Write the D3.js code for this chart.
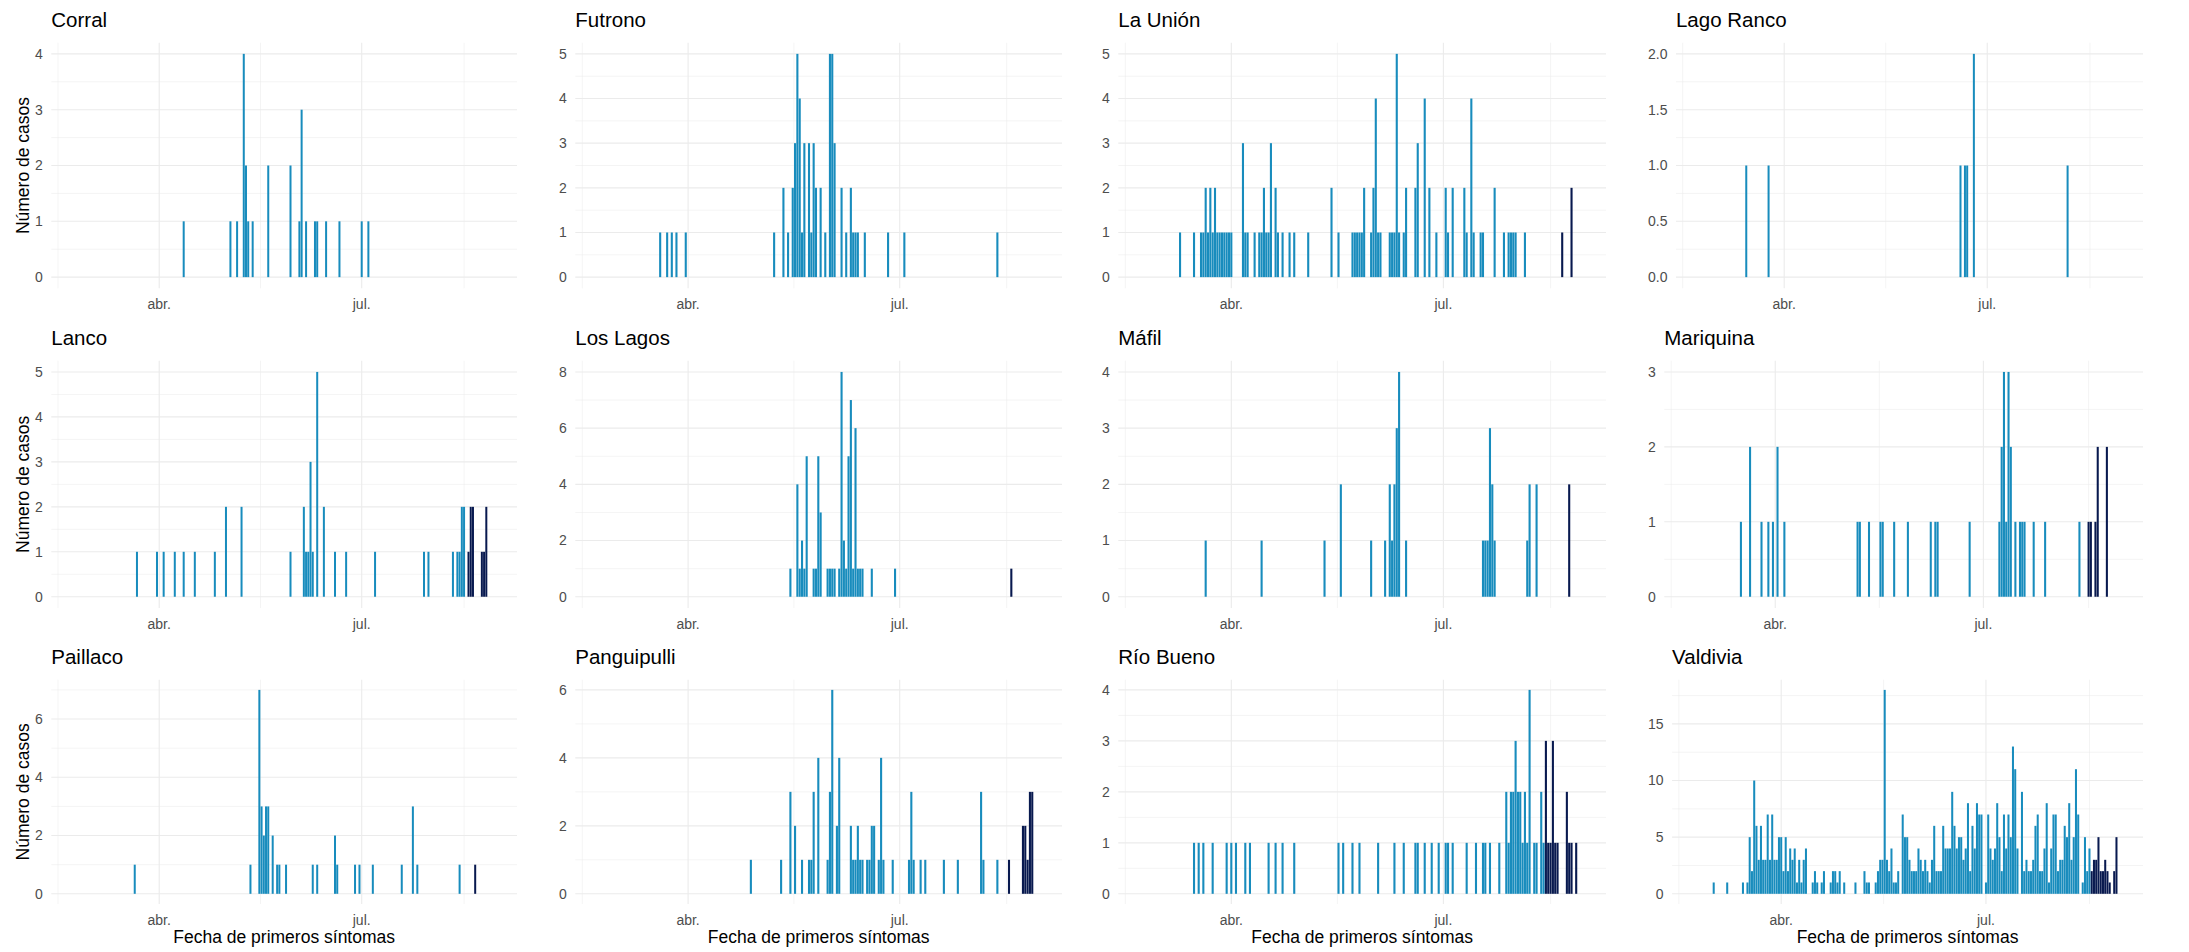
<!DOCTYPE html>
<html>
<head>
<meta charset="utf-8">
<script src="https://cdn.jsdelivr.net/npm/d3@7"></script>
<style>
  body { margin: 0; background: #ffffff; }
  text { font-family: "Liberation Sans", Arial, sans-serif; }
</style>
</head>
<body>
<svg id="chart" width="2189" height="952"></svg>
<script>
// ---------------- DATA ----------------
const YEAR = 2020;
const communes = ["Corral", "Futrono", "La Unión", "Lago Ranco", "Lanco", "Los Lagos",
                  "Máfil", "Mariquina", "Paillaco", "Panguipulli", "Río Bueno", "Valdivia"];
// [MM-DD, cases, recent(1) ]
const corral = [["04-12",1],["05-03",1],["05-06",1],["05-09",4],["05-10",2],["05-11",1],["05-13",1],["05-20",2],
  ["05-30",2],["06-03",1],["06-04",3],["06-06",1],["06-10",1],["06-11",1],["06-15",1],["06-21",1],["07-01",1],["07-04",1]];
const futrono = [["03-20",1],["03-23",1],["03-25",1],["03-27",1],["03-31",1],["05-08",1],["05-12",2],["05-14",1],
  ["05-16",2],["05-17",3],["05-18",5],["05-19",4],["05-20",1],["05-21",3],["05-23",3],["05-24",1],["05-25",3],
  ["05-26",2],["05-28",2],["05-30",1],["06-01",5],["06-02",5],["06-03",3],["06-06",2],["06-08",1],["06-10",2],
  ["06-11",1],["06-12",1],["06-13",1],["06-16",1],["06-26",1],["07-03",1],["08-12",1]];
const laUnion = [["03-10",1],["03-16",1],["03-19",1],["03-20",1],["03-21",2],["03-22",1],["03-23",2],["03-24",1],
  ["03-25",2],["03-26",1],["03-27",1],["03-28",1],["03-29",1],["03-30",1],["03-31",1],["04-01",1],["04-06",3],
  ["04-07",1],["04-08",1],["04-11",1],["04-13",1],["04-14",1],["04-15",2],["04-16",1],["04-17",1],["04-18",3],
  ["04-20",2],["04-21",1],["04-23",1],["04-26",1],["04-28",1],["05-04",1],["05-14",2],["05-17",1],["05-23",1],
  ["05-24",1],["05-25",1],["05-26",1],["05-27",1],["05-28",2],["05-31",1],["06-01",2],["06-02",4],["06-03",1],
  ["06-04",1],["06-08",1],["06-09",1],["06-10",1],["06-11",5],["06-12",1],["06-14",1],["06-15",2],["06-19",2],
  ["06-20",3],["06-23",4],["06-25",2],["06-28",1],["07-02",2],["07-03",1],["07-05",2],["07-10",2],["07-11",1],
  ["07-13",4],["07-14",1],["07-17",1],["07-18",1],["07-23",2],["07-27",1],["07-29",1],["07-30",1],["07-31",1],
  ["08-01",1],["08-05",1],["08-21",1,1],["08-25",2,1]];
const lagoRanco = [["03-15",1],["03-25",1],["06-19",1],["06-21",1],["06-22",1],["06-25",2],["08-06",1]];
const lanco = [["03-22",1],["03-31",1],["04-03",1],["04-08",1],["04-12",1],["04-17",1],["04-26",1],["05-01",2],
  ["05-08",2],["05-30",1],["06-05",2],["06-06",1],["06-07",1],["06-08",3],["06-09",1],["06-11",5],["06-14",2],
  ["06-19",1],["06-24",1],["07-07",1],["07-29",1],["07-31",1],["08-11",1],["08-13",1],["08-14",1],["08-15",2],
  ["08-16",2],["08-18",1,1],["08-19",2,1],["08-20",2,1],["08-24",1,1],["08-25",1,1],["08-26",2,1]];
const losLagos = [["05-15",1],["05-18",4],["05-19",1],["05-20",2],["05-21",1],["05-22",5],["05-25",1],["05-26",1],
  ["05-27",5],["05-28",3],["05-31",1],["06-01",1],["06-02",1],["06-03",1],["06-05",1],["06-06",8],["06-07",2],
  ["06-08",1],["06-09",5],["06-10",7],["06-11",1],["06-12",6],["06-13",1],["06-14",1],["06-15",1],["06-19",1],
  ["06-29",1],["08-18",1,1]];
const mafil = [["03-21",1],["04-14",1],["05-11",1],["05-18",2],["05-31",1],["06-06",1],["06-08",2],["06-09",1],
  ["06-10",2],["06-11",3],["06-12",4],["06-15",1],["07-18",1],["07-19",1],["07-20",1],["07-21",3],["07-22",2],
  ["07-23",1],["08-06",1],["08-07",2],["08-10",2],["08-24",2,1]];
const mariquina = [["03-17",1],["03-21",2],["03-26",1],["03-29",1],["03-31",1],["04-02",2],["04-05",1],["05-07",1],
  ["05-08",1],["05-12",1],["05-17",1],["05-18",1],["05-23",1],["05-29",1],["06-08",1],["06-10",1],["06-11",1],
  ["06-25",1],["07-08",1],["07-09",2],["07-10",3],["07-11",1],["07-12",3],["07-13",2],["07-15",1],["07-17",1],
  ["07-18",1],["07-19",1],["07-23",1],["07-28",1],["08-12",1],["08-16",1,1],["08-17",1,1],["08-19",1,1],
  ["08-20",2,1],["08-24",2,1]];
const paillaco = [["03-21",1],["05-12",1],["05-16",7],["05-17",3],["05-18",2],["05-19",3],["05-20",3],["05-22",2],
  ["05-24",1],["05-25",1],["05-28",1],["06-09",1],["06-11",1],["06-19",2],["06-20",1],["06-28",1],["06-30",1],
  ["07-06",1],["07-19",1],["07-24",3],["07-26",1],["08-14",1],["08-21",1,1]];
const panguipulli = [["04-28",1],["05-11",1],["05-15",3],["05-17",2],["05-20",1],["05-23",1],["05-24",1],["05-25",3],
  ["05-27",4],["05-31",1],["06-01",3],["06-02",6],["06-04",2],["06-05",4],["06-10",2],["06-11",1],["06-12",1],
  ["06-13",2],["06-14",1],["06-15",1],["06-17",1],["06-18",1],["06-19",2],["06-20",2],["06-22",1],["06-23",4],
  ["06-24",1],["06-28",1],["07-05",1],["07-06",3],["07-07",1],["07-10",1],["07-12",1],["07-20",1],["07-26",1],
  ["08-05",3],["08-06",1],["08-12",1],["08-17",1,1],["08-23",2,1],["08-24",2,1],["08-25",1,1],["08-26",3,1],
  ["08-27",3,1]];
const rioBueno = [["03-16",1],["03-18",1],["03-20",1],["03-24",1],["03-30",1],["04-01",1],["04-03",1],["04-07",1],
  ["04-09",1],["04-17",1],["04-20",1],["04-23",1],["04-28",1],["05-17",1],["05-19",1],["05-23",1],["05-26",1],
  ["06-03",1],["06-10",1],["06-14",1],["06-19",1],["06-20",1],["06-23",1],["06-26",1],["06-29",1],["07-02",1],
  ["07-03",1],["07-05",1],["07-11",1],["07-15",1],["07-18",1],["07-19",1],["07-21",1],["07-25",1],["07-28",2],
  ["07-29",1],["07-30",2],["07-31",2],["08-01",3],["08-02",2],["08-03",2],["08-04",1],["08-05",2],["08-06",1],
  ["08-07",4],["08-09",1],["08-10",1],["08-12",2],["08-13",1],["08-14",3,1],["08-15",1,1],["08-16",1,1],
  ["08-17",3,1],["08-18",1,1],["08-19",1,1],["08-23",2,1],["08-24",1,1],["08-25",1,1],["08-27",1,1]];
const valdivia = [["03-02",1],["03-08",1],["03-15",1],["03-17",1],["03-18",5],["03-19",2],["03-20",10],["03-21",6],
  ["03-22",3],["03-23",6],["03-24",3],["03-25",3],["03-26",7],["03-27",3],["03-28",7],["03-29",3],["03-30",3],
  ["03-31",5],["04-01",5],["04-02",2],["04-03",5],["04-04",2],["04-05",4],["04-06",3],["04-07",4],["04-08",1],
  ["04-09",3],["04-10",1],["04-11",3],["04-12",4],["04-15",1],["04-16",2],["04-17",1],["04-19",1],["04-20",2],
  ["04-23",1],["04-24",2],["04-25",2],["04-26",1],["04-27",2],["04-29",1],["05-04",1],["05-08",2],["05-09",1],
  ["05-10",1],["05-13",1],["05-14",2],["05-15",3],["05-16",3],["05-17",18],["05-18",3],["05-19",2],["05-20",4],
  ["05-21",1],["05-22",1],["05-23",2],["05-25",7],["05-26",5],["05-27",5],["05-28",3],["05-29",2],["05-30",2],
  ["05-31",2],["06-01",4],["06-02",3],["06-03",2],["06-04",3],["06-05",2],["06-06",1],["06-07",3],["06-08",6],
  ["06-09",2],["06-10",2],["06-11",2],["06-12",6],["06-13",4],["06-14",4],["06-15",4],["06-16",9],["06-17",6],
  ["06-18",4],["06-19",5],["06-20",5],["06-21",3],["06-22",4],["06-23",8],["06-24",2],["06-25",6],["06-26",4],
  ["06-27",8],["06-28",7],["06-29",7],["07-01",1],["07-02",7],["07-03",4],["07-04",3],["07-05",4],["07-06",8],
  ["07-07",5],["07-08",2],["07-09",7],["07-10",4],["07-11",7],["07-12",5],["07-13",13],["07-14",11],["07-15",4],
  ["07-17",9],["07-18",2],["07-19",3],["07-20",2],["07-21",2],["07-22",3],["07-23",6],["07-24",7],["07-25",2],
  ["07-26",2],["07-27",4],["07-28",8],["07-29",1],["07-30",4],["07-31",7],["08-01",7],["08-02",2],["08-03",3],
  ["08-04",3],["08-05",6],["08-06",5],["08-07",8],["08-08",3],["08-09",5],["08-10",11],["08-11",7],["08-13",1],
  ["08-14",5],["08-15",2],["08-16",4],["08-17",2,1],["08-18",3,1],["08-19",3,1],["08-20",5,1],["08-21",2,1],
  ["08-22",2,1],["08-23",3,1],["08-24",2,1],["08-25",1,1],["08-27",2,1],["08-28",5,1]];
const seriesList = [corral, futrono, laUnion, lagoRanco, lanco, losLagos,
                    mafil, mariquina, paillaco, panguipulli, rioBueno, valdivia];
const monthLabels = ["ene.","feb.","mar.","abr.","may.","jun.","jul.","ago.","sept.","oct.","nov.","dic."];
const xDomain = ["2020-02-12T12:00:00Z", "2020-09-08T19:00:00Z"];
const yAxisTitle = "Número de casos";
const xAxisTitle = "Fecha de primeros síntomas";

// ---------------- STYLE / LAYOUT ----------------
const barColor = "#188cbd", recentColor = "#08194f";
const gridColor = "#ebebeb";
const colRight = [517, 1062, 1606, 2143];
const colLabelStart = [35, 559, 1102, 1648];
const rowTop = [42.7, 360.7, 679.7];
const rowBottom = [288.3, 608, 904];
const tickFont = 14, titleFont = 20.5, axisTitleFont = 17.5;

const svg = d3.select("#chart");
const parseDay = s => new Date(Date.UTC(YEAR, +s.slice(0, 2) - 1, +s.slice(3, 5)));
const domain = xDomain.map(d => new Date(d));

const measurer = svg.append("text").attr("font-size", tickFont).attr("visibility", "hidden");
function textWidth(s) { measurer.text(s); return measurer.node().getComputedTextLength(); }

const majorsAll = d3.utcMonth.every(3).range(d3.utcMonth.offset(domain[0], -3), d3.utcMonth.offset(domain[1], 3));
const xMajors = majorsAll.filter(d => d >= domain[0] && d <= domain[1]);
const xMinors = d3.pairs(majorsAll).map(([a, b]) => new Date((+a + +b) / 2))
  .filter(d => d >= domain[0] && d <= domain[1]);

seriesList.forEach((series, i) => {
  const col = i % 4, row = Math.floor(i / 4);
  const top = rowTop[row], bottom = rowBottom[row], right = colRight[col];
  const maxV = d3.max(series, d => d[1]);
  const yTicks = d3.ticks(0, maxV, 4);
  const step = yTicks[1] - yTicks[0];
  const fmt = step < 1 ? d3.format(".1f") : d3.format("d");
  const labelW = d3.max(yTicks, t => textWidth(fmt(t)));
  const left = colLabelStart[col] + labelW + 8.5;

  const x = d3.scaleUtc().domain(domain).range([left, right]);
  const y = d3.scaleLinear().domain([-0.05 * maxV, 1.05 * maxV]).range([bottom, top]);

  const g = svg.append("g");
  const yMinors = d3.range(yTicks.length + 1).map(k => yTicks[0] - step / 2 + k * step)
    .filter(v => v >= y.domain()[0] && v <= y.domain()[1]);
  g.selectAll(".ymin").data(yMinors).join("line")
    .attr("x1", left).attr("x2", right).attr("y1", d => y(d)).attr("y2", d => y(d))
    .attr("stroke", gridColor).attr("stroke-width", 0.55);
  g.selectAll(".xmin").data(xMinors).join("line")
    .attr("x1", d => x(d)).attr("x2", d => x(d)).attr("y1", top).attr("y2", bottom)
    .attr("stroke", gridColor).attr("stroke-width", 0.55);
  g.selectAll(".ymaj").data(yTicks).join("line")
    .attr("x1", left).attr("x2", right).attr("y1", d => y(d)).attr("y2", d => y(d))
    .attr("stroke", gridColor).attr("stroke-width", 1.1);
  g.selectAll(".xmaj").data(xMajors).join("line")
    .attr("x1", d => x(d)).attr("x2", d => x(d)).attr("y1", top).attr("y2", bottom)
    .attr("stroke", gridColor).attr("stroke-width", 1.1);

  const dayPx = x(new Date(Date.UTC(YEAR, 3, 2))) - x(new Date(Date.UTC(YEAR, 3, 1)));
  const bw = 0.9 * dayPx;
  g.selectAll("rect").data(series).join("rect")
    .attr("x", d => x(parseDay(d[0])) - bw / 2)
    .attr("width", bw)
    .attr("y", d => y(d[1]))
    .attr("height", d => y(0) - y(d[1]))
    .attr("fill", d => d[2] ? recentColor : barColor);

  g.selectAll(".ylab").data(yTicks).join("text")
    .attr("x", left - 8.5).attr("y", d => y(d)).attr("dy", "0.35em")
    .attr("text-anchor", "end").attr("font-size", tickFont).attr("fill", "#4d4d4d")
    .text(d => fmt(d));
  g.selectAll(".xlab").data(xMajors).join("text")
    .attr("x", d => x(d)).attr("y", bottom + 20.5)
    .attr("text-anchor", "middle").attr("font-size", tickFont).attr("fill", "#4d4d4d")
    .text(d => monthLabels[d.getUTCMonth()]);
  g.append("text").attr("x", left).attr("y", top - 15.3)
    .attr("font-size", titleFont).attr("fill", "#000").text(communes[i]);
  if (col === 0) {
    g.append("text").attr("transform", `translate(28.5,${(top + bottom) / 2}) rotate(-90)`)
      .attr("text-anchor", "middle").attr("font-size", axisTitleFont).attr("fill", "#000").text(yAxisTitle);
  }
  if (row === 2) {
    g.append("text").attr("x", (left + right) / 2).attr("y", 943)
      .attr("text-anchor", "middle").attr("font-size", axisTitleFont).attr("fill", "#000").text(xAxisTitle);
  }
});
measurer.remove();
</script>
</body>
</html>
